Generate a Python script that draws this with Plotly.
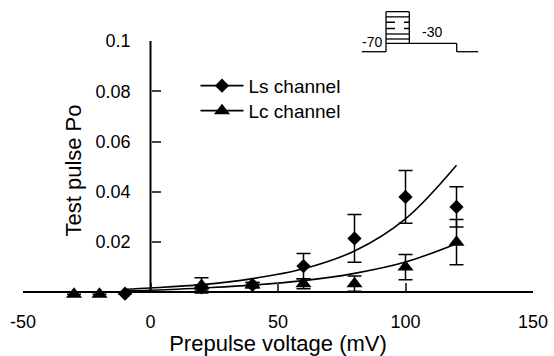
import plotly.graph_objects as go

# ---- data ----
ls_x = [-10, 20, 40, 60, 80, 100, 120]
ls_y = [-0.0005, 0.002, 0.003, 0.0105, 0.0215, 0.038, 0.034]
ls_err = [0, 0.001, 0.001, 0.005, 0.0095, 0.0105, 0.008]

lc_x = [-30, -20, 20, 40, 60, 80, 100, 120]
lc_y = [-0.0007, -0.0007, 0.0028, 0.003, 0.0035, 0.0035, 0.0101, 0.020]
lc_err = [0, 0, 0.003, 0.001, 0.002, 0.003, 0.005, 0.009]

fit_x = [-10, 0, 20, 40, 60, 80, 100, 120]
ls_fit_y = [0.0013, 0.0018, 0.0031, 0.0055, 0.0094, 0.0165, 0.0293, 0.0506]
lc_fit_y = [0.0007, 0.0009, 0.0018, 0.0029, 0.0047, 0.0076, 0.0121, 0.0194]

x_ticks = [-50, 0, 50, 100, 150]
x_tick_text = ["-50", "0", "50", "100", "150"]
y_ticks = [0.02, 0.04, 0.06, 0.08, 0.1]
y_tick_text = ["0.02", "0.04", "0.06", "0.08", "0.1"]

FONT = "Liberation Sans, Arial, sans-serif"
W, H = 554, 356
Y_MIN = -0.003
ML, MR, MT = 23, 21, 41
Y0_PX = 292.0                       # pixel row of y = 0
PX_PER_Y = (Y0_PX - 40.7) / 0.1
MB = H - (Y0_PX - Y_MIN * PX_PER_Y)

fig = go.Figure()

# fitted curves
for fy in (ls_fit_y, lc_fit_y):
    fig.add_trace(go.Scatter(x=fit_x, y=fy, mode="lines", line=dict(color="black", width=1.6, shape="spline"),
                             showlegend=False, hoverinfo="skip"))

# data points
fig.add_trace(go.Scatter(x=ls_x, y=ls_y, mode="markers", name="Ls channel",
                         marker=dict(symbol="diamond", size=11, color="black"),
                         error_y=dict(type="data", array=ls_err, color="black", thickness=1.5, width=7),
                         cliponaxis=False, showlegend=False))
fig.add_trace(go.Scatter(x=lc_x, y=lc_y, mode="markers", name="Lc channel",
                         marker=dict(symbol="triangle-up", size=14, color="black"),
                         error_y=dict(type="data", array=lc_err, color="black", thickness=1.5, width=7),
                         cliponaxis=False, showlegend=False))

# legend entries
fig.add_trace(go.Scatter(x=[None], y=[None], mode="lines+markers", name="Ls channel", legend="legend",
                         line=dict(color="black", width=1.6),
                         marker=dict(symbol="diamond", size=11, color="black")))
fig.add_trace(go.Scatter(x=[None], y=[None], mode="lines+markers", name="Lc channel", legend="legend2",
                         line=dict(color="black", width=1.6),
                         marker=dict(symbol="triangle-up", size=14, color="black")))

pw = W - ML - MR
ph = H - MT - MB


def px(x, y):
    return (x - ML) / pw, (H - MB - y) / ph


shapes = []


def seg(x0, y0, x1, y1, dash="solid", width=1.3):
    a = px(x0, y0)
    b = px(x1, y1)
    shapes.append(dict(type="line", xref="paper", yref="paper", x0=a[0], y0=a[1], x1=b[0], y1=b[1],
                       line=dict(color="black", width=width, dash=dash)))


# y-axis line drawn from 0 to 0.1 only
shapes.append(dict(type="line", xref="x", yref="y", x0=0, x1=0, y0=0, y1=0.1,
                   line=dict(color="black", width=2)))

# pulse protocol inset
seg(361.7, 51.7, 386, 51.7)
seg(386, 51.7, 386, 11.7)
seg(409.3, 11.7, 409.3, 43.3)
for yy, d in [(11.7, "solid"), (16.9, "solid"), (22.3, "dash"), (28.5, "dash"), (34, "solid"), (39, "solid")]:
    seg(386, yy, 409.3, yy, d)
seg(386, 43.3, 456.7, 43.3)
seg(456.7, 43.3, 456.7, 51.7)
seg(456.7, 51.7, 478.3, 51.7)

annotations = []
for txt, x, y in [("-70", 372, 41.5), ("-30", 432, 32)]:
    p = px(x, y)
    annotations.append(dict(text=txt, xref="paper", yref="paper", x=p[0], y=p[1], showarrow=False,
                            font=dict(family=FONT, size=14, color="black"), xanchor="center", yanchor="middle"))

leg_common = dict(xanchor="left", yanchor="middle", font=dict(family=FONT, size=19, color="black"),
                  bgcolor="rgba(0,0,0,0)", itemwidth=43)

fig.update_layout(
    width=W, height=H,
    margin=dict(l=ML, r=MR, t=MT, b=MB, autoexpand=False),
    paper_bgcolor="white", plot_bgcolor="white",
    font=dict(family=FONT, color="black", size=18),
    shapes=shapes, annotations=annotations,
    legend=dict(x=px(195.5, 0)[0], y=px(0, 85.7)[1], **leg_common),
    legend2=dict(x=px(195.5, 0)[0], y=px(0, 110.7)[1], **leg_common),
    xaxis=dict(range=[-50, 150], tickvals=x_ticks, ticktext=x_tick_text, ticks="inside", ticklen=8, tickwidth=2,
               showline=True, linewidth=2, linecolor="black", showgrid=False, zeroline=False,
               anchor="free", position=(-Y_MIN) / (0.1 - Y_MIN), automargin=False,
               ticklabelstandoff=13,
               tickfont=dict(size=18), title=dict(text="Prepulse voltage (mV)", font=dict(size=22), standoff=1)),
    yaxis=dict(range=[Y_MIN, 0.1], tickvals=y_ticks, ticktext=y_tick_text, ticks="inside", ticklen=9, tickwidth=2,
               showline=False, showgrid=False, zeroline=False,
               anchor="free", position=(150.5 - ML) / pw, automargin=False,
               ticklabelstandoff=20,
               tickfont=dict(size=18), title=dict(text="Test pulse Po", font=dict(size=22), standoff=6)),
)

fig.write_html("out.html", config={"displayModeBar": False},
               post_script="document.body.style.margin='0px';document.body.style.padding='0px';")
